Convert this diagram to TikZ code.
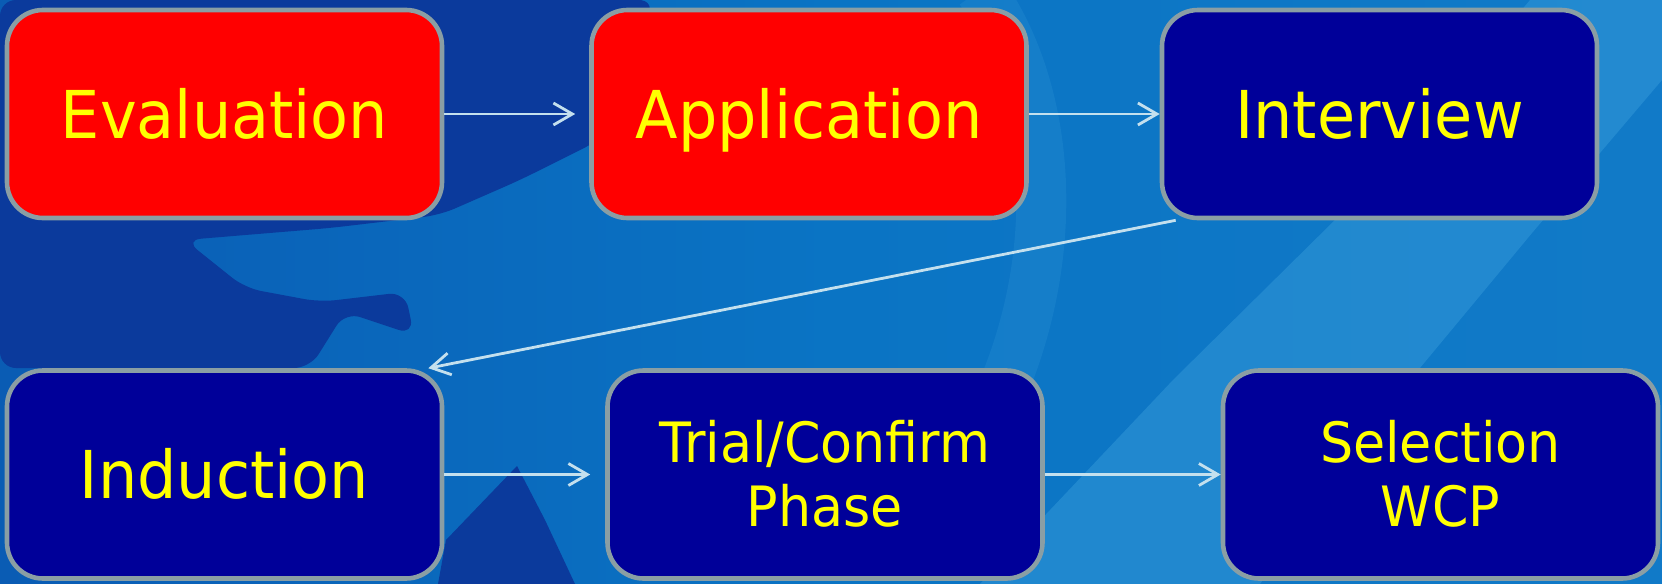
\documentclass[tikz,border=0pt]{standalone}
\usepackage{fontspec}
\setmainfont{DejaVu Sans}[FakeStretch=0.94]
\usetikzlibrary{arrows.meta}
\definecolor{bgbase}{HTML}{0A74C4}
\definecolor{bgleft}{HTML}{0A5CB4}
\definecolor{bglight}{HTML}{3A9EDC}
\definecolor{bgdark}{HTML}{0B3A9C}
\definecolor{boxred}{HTML}{FF0000}
\definecolor{boxnavy}{HTML}{000099}
\definecolor{boxedge}{HTML}{8A9EA4}
\definecolor{txtyellow}{HTML}{FFFF00}
\definecolor{arrowcol}{HTML}{C4E0EE}
\tikzset{
  stagebox/.style={draw=boxedge, line width=2.3pt, rounded corners=18pt,
    minimum width=217.5pt, minimum height=104pt, inner sep=0pt,
    text=txtyellow, align=center},
  redbox/.style={stagebox, fill=boxred},
  navybox/.style={stagebox, fill=boxnavy},
  bigtext/.style={font=\fontsize{33}{40}\selectfont, text height=24pt, text depth=0pt},
  flow/.style={draw=arrowcol, line width=1.4pt,
    -{Straight Barb[length=9.5pt,width=11pt,line width=1.4pt]}}
}
\newcommand{\twolinetext}[2]{\raisebox{0pt}[20pt][32pt]{\fontsize{27.8}{32}\selectfont\begin{tabular}[t]{@{}c@{}}#1\\#2\end{tabular}}}
\begin{document}
\begin{tikzpicture}[x=0.5pt,y=-0.5pt]
\useasboundingbox (0,0) rectangle (1662,584);
% background
\shade[left color=bgleft, right color=bgbase!85!bglight, middle color=bgbase] (0,0) rectangle (1662,584);
\fill[bglight, opacity=0.45] (980,584) -- (1173,380) -- (1340,215) -- (1480,60) -- (1530,0) -- (1662,0) -- (1662,80) -- (1532,233) -- (1410,380) -- (1260,584) -- cycle;
\draw[bglight, opacity=0.2, line width=25pt] (980,-10) .. controls (1060,100) and (1070,300) .. (960,470);
\fill[bgdark, rounded corners=8pt] (0,0) -- (655,0) -- (625,70) -- (600,140) -- (520,180) -- (440,215) -- (330,228) -- (185,240) -- (245,288) -- (320,302) -- (405,292) -- (414,335) -- (345,312) -- (310,368) -- (0,368) -- cycle;
\fill[bgdark] (438,584) -- (446,540) -- (517,466) -- (545,520) -- (575,584) -- cycle;
% boxes
\node[redbox, bigtext] (eval) at (224.5,114) {Evaluation};
\node[redbox, bigtext] (app) at (809,114) {Application};
\node[navybox, bigtext] (int) at (1379.5,114) {Interview};
\node[navybox, bigtext] (ind) at (224.5,474.5) {Induction};
\node[navybox] (trial) at (825,474.5) {\twolinetext{Trial/Confirm}{Phase}};
\node[navybox] (sel) at (1440.5,474.5) {\twolinetext{Selection}{WCP}};
% connectors
\draw[flow] (eval.east) -- ([xshift=-7pt]app.west);
\draw[flow] (app.east) -- (int.west);
\draw[flow] ([xshift=8pt]int.south west) -- ([xshift=-8pt]ind.north east);
\draw[flow] (ind.east) -- ([xshift=-7.5pt]trial.west);
\draw[flow] (trial.east) -- (sel.west);
\end{tikzpicture}
\end{document}
